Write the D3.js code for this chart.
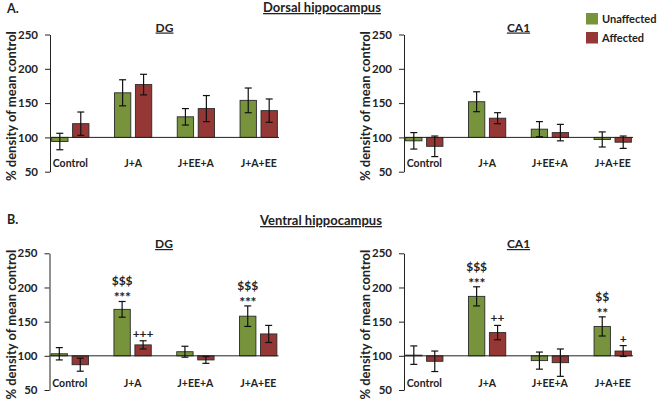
<!DOCTYPE html>
<html><head><meta charset="utf-8">
<script src="https://cdn.jsdelivr.net/npm/d3@7"></script>
<style>
html,body{margin:0;padding:0;background:#fff;}
text{font-family:Lato,"Open Sans",sans-serif;font-weight:bold;fill:#222;}
</style></head>
<body><svg id="c" width="658" height="404"></svg>
<script>
const categories = ["Control", "J+A", "J+EE+A", "J+A+EE"];
const seriesNames = ["Unaffected", "Affected"];
const yTicks = [50, 100, 150, 200, 250];

// Dorsal DG
const dorsalDG_U = [94, 165, 130, 154];
const dorsalDG_Uerr = [12, 19, 12, 18];
const dorsalDG_A = [120, 177, 142, 139];
const dorsalDG_Aerr = [17, 15, 19, 17];
// Dorsal CA1
const dorsalCA1_U = [95, 152, 112, 97];
const dorsalCA1_Uerr = [12, 14.5, 11, 11];
const dorsalCA1_A = [87, 128, 107, 93];
const dorsalCA1_Aerr = [15, 8, 12, 9];
// Ventral DG
const ventralDG_U = [103, 168, 106, 158];
const ventralDG_Uerr = [9, 11.5, 8, 15];
const ventralDG_A = [87, 116, 94, 132];
const ventralDG_Aerr = [9.5, 6, 5, 12.5];
// Ventral CA1
const ventralCA1_U = [101, 187, 93, 143];
const ventralCA1_Uerr = [13.5, 14, 12.5, 14];
const ventralCA1_A = [92, 134, 90, 107];
const ventralCA1_Aerr = [15, 10.5, 20, 8];
// significance marks [upper line, lower line]
const ventralDG_Usig = [["",""], ["$$$","***"], ["",""], ["$$$","***"]];
const ventralDG_Asig = [["",""], ["","+++"], ["",""], ["",""]];
const ventralCA1_Usig = [["",""], ["$$$","***"], ["",""], ["$$","**"]];
const ventralCA1_Asig = [["",""], ["","++"], ["",""], ["","+"]];
const noSig = [["",""],["",""],["",""],["",""]];

const colors = ["#77933C", "#953735"];
const svg = d3.select("#c");

const panels = [
  {title:"DG", ax:50, xr:[50,279], yr:[171.7,34.5], catY:166.5, titleY:31.5, ylabX:11,
   U:dorsalDG_U, Ue:dorsalDG_Uerr, A:dorsalDG_A, Ae:dorsalDG_Aerr, Us:noSig, As:noSig},
  {title:"CA1", ax:404, xr:[404,633], yr:[171.7,34.5], catY:166.5, titleY:31.5, ylabX:365,
   U:dorsalCA1_U, Ue:dorsalCA1_Uerr, A:dorsalCA1_A, Ae:dorsalCA1_Aerr, Us:noSig, As:noSig},
  {title:"DG", ax:49.5, xr:[49.5,278.5], yr:[390,253.3], catY:386.5, titleY:248, ylabX:11,
   U:ventralDG_U, Ue:ventralDG_Uerr, A:ventralDG_A, Ae:ventralDG_Aerr, Us:ventralDG_Usig, As:ventralDG_Asig},
  {title:"CA1", ax:404, xr:[404,633], yr:[390,253.3], catY:386.5, titleY:248, ylabX:365,
   U:ventralCA1_U, Ue:ventralCA1_Uerr, A:ventralCA1_A, Ae:ventralCA1_Aerr, Us:ventralCA1_Usig, As:ventralCA1_Asig}
];

panels.forEach(p => {
  const g = svg.append("g");
  const x = d3.scaleBand().domain(categories).range(p.xr).paddingInner(0.406).paddingOuter(0.026);
  const xi = d3.scaleBand().domain(seriesNames).range([0, x.bandwidth()]).paddingInner(0.22).paddingOuter(0);
  const y = d3.scaleLinear().domain([50, 250]).range(p.yr);

  const rows = [];
  categories.forEach((c, i) => {
    rows.push({c, s:"Unaffected", v:p.U[i], e:p.Ue[i], sig:p.Us[i], col:colors[0]});
    rows.push({c, s:"Affected", v:p.A[i], e:p.Ae[i], sig:p.As[i], col:colors[1]});
  });

  g.selectAll("rect.bar").data(rows).join("rect")
    .attr("x", d => x(d.c) + xi(d.s))
    .attr("width", xi.bandwidth())
    .attr("y", d => y(Math.max(d.v, 100)))
    .attr("height", d => Math.abs(y(d.v) - y(100)))
    .attr("fill", d => d.col)
    .attr("stroke", "#2a2a2a").attr("stroke-width", 0.9);

  g.append("line").attr("x1", p.xr[0]).attr("x2", p.xr[1])
    .attr("y1", y(100)).attr("y2", y(100)).attr("stroke", "#222").attr("stroke-width", 1);

  const eb = g.selectAll("g.eb").data(rows).join("g")
    .attr("transform", d => `translate(${x(d.c) + xi(d.s) + xi.bandwidth()/2},0)`);
  eb.append("line").attr("y1", d => y(d.v + d.e)).attr("y2", d => y(d.v - d.e))
    .attr("stroke", "#111").attr("stroke-width", 1.2);
  eb.append("line").attr("x1", -3.5).attr("x2", 3.5).attr("y1", d => y(d.v + d.e)).attr("y2", d => y(d.v + d.e))
    .attr("stroke", "#111").attr("stroke-width", 1.2);
  eb.append("line").attr("x1", -3.5).attr("x2", 3.5).attr("y1", d => y(d.v - d.e)).attr("y2", d => y(d.v - d.e))
    .attr("stroke", "#111").attr("stroke-width", 1.2);

  // significance marks
  eb.append("text").attr("text-anchor", "middle")
    .style("font-size", d => d.sig[1].startsWith("*") ? "14px" : "12px")
    .style("fill", "#222").style("letter-spacing", d => d.sig[1].startsWith("*") ? "-0.3px" : "0px")
    .attr("y", d => y(d.v + d.e) + (d.sig[1].startsWith("*") ? 1 : -3))
    .text(d => d.sig[1]);
  eb.append("text").attr("text-anchor", "middle").style("font-size", "12px").style("fill", "#222")
    .attr("y", d => y(d.v + d.e) - 16)
    .text(d => d.sig[0]);

  const ya = g.append("g").attr("transform", `translate(${p.ax},0)`)
    .call(d3.axisLeft(y).tickValues(yTicks).tickSize(5).tickSizeOuter(0).tickPadding(7));
  ya.select(".domain").attr("stroke", "#222");
  ya.selectAll(".tick line").attr("stroke", "#222");
  ya.selectAll(".tick text").style("font-size", "11.5px").style("font-family", "Lato").style("font-weight", "bold").style("fill", "#222");

  g.selectAll("text.cat").data(categories).join("text")
    .attr("x", c => x(c) + x.bandwidth()/2).attr("y", p.catY)
    .attr("text-anchor", "middle").style("font-size", "10.5px").text(c => c);

  const tx = (p.xr[0] + p.xr[1]) / 2;
  g.append("text").attr("x", tx).attr("y", p.titleY).attr("text-anchor", "middle")
    .style("font-size", "12px").style("text-decoration", "underline").text(p.title);

  const yc = (p.yr[0] + p.yr[1]) / 2 + 3;
  g.append("text").attr("transform", `translate(${p.ylabX},${yc}) rotate(-90)`)
    .attr("text-anchor", "middle").attr("dy", "0.35em").style("font-size", "13px")
    .text("% density of mean control");
});

svg.append("text").attr("x", 7).attr("y", 13).style("font-size", "12.5px").text("A.");
svg.append("text").attr("x", 7).attr("y", 224).style("font-size", "12.5px").text("B.");
svg.append("text").attr("x", 322).attr("y", 12).attr("text-anchor", "middle")
  .style("font-size", "13px").style("text-decoration", "underline").text("Dorsal hippocampus");
svg.append("text").attr("x", 321).attr("y", 225).attr("text-anchor", "middle")
  .style("font-size", "13px").style("text-decoration", "underline").text("Ventral hippocampus");

const lg = svg.append("g");
seriesNames.forEach((s, i) => {
  lg.append("rect").attr("x", 586).attr("y", 13 + i * 19).attr("width", 12).attr("height", 11.5).attr("fill", colors[i]);
  lg.append("text").attr("x", 602).attr("y", 23 + i * 19).style("font-size", "11px").text(s);
});
</script></body></html>
